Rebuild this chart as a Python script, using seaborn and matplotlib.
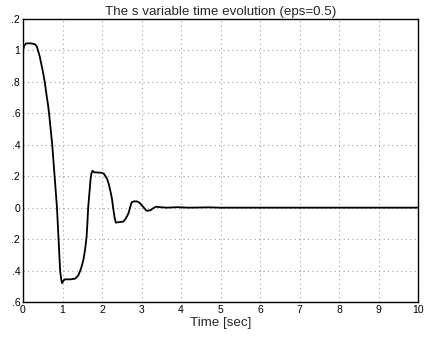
import numpy as np
import pandas as pd
import matplotlib
matplotlib.use("Agg")
import matplotlib.pyplot as plt
import seaborn as sns

# values
t = [0.0, 0.03, 0.08, 0.2, 0.3, 0.35, 0.38, 0.42, 0.45, 0.5, 0.55, 0.6, 0.63,
     0.66, 0.7, 0.74, 0.8, 0.86, 0.9, 0.94, 0.97, 0.99, 1.02, 1.06, 1.2, 1.31,
     1.35, 1.4, 1.45, 1.49, 1.53, 1.57, 1.61, 1.63, 1.65, 1.68, 1.71, 1.73, 1.76,
     1.8, 1.99, 2.05, 2.12, 2.16, 2.2, 2.25, 2.29, 2.32, 2.35, 2.4, 2.54, 2.6,
     2.67, 2.71, 2.75, 2.8, 2.88, 2.95, 3.0, 3.06, 3.13, 3.22, 3.3, 3.37, 3.47,
     3.64, 3.9, 4.2, 4.7, 5.0, 6.0, 7.0, 8.0, 9.0, 10.0]
s = [1.0, 1.03, 1.045, 1.045, 1.04, 1.025, 1.0, 0.965, 0.93, 0.87, 0.8, 0.71,
     0.66, 0.6, 0.5, 0.4, 0.2, 0.0, -0.2, -0.4, -0.46, -0.48, -0.465, -0.456,
     -0.456, -0.452, -0.445, -0.43, -0.4, -0.37, -0.33, -0.27, -0.185, -0.1, 0.0,
     0.09, 0.18, 0.215, 0.235, 0.225, 0.222, 0.215, 0.187, 0.16, 0.12, 0.06,
     -0.015, -0.065, -0.095, -0.093, -0.089, -0.07, -0.036, 0.0, 0.034, 0.04,
     0.04, 0.032, 0.017, 0.0, -0.02, -0.017, -0.003, 0.006, 0.003, 0.0, 0.003,
     0.0, 0.002, 0.0, 0.0, 0.0, 0.0, 0.0, 0.0]

x_ticks = [0, 1, 2, 3, 4, 5, 6, 7, 8, 9, 10]
y_ticks = [-0.6, -0.4, -0.2, 0, 0.2, 0.4, 0.6, 0.8, 1.0, 1.2]
# labels as they appear (clipped) in the reference
y_labels = [".6", ".4", ".2", "0", ".2", ".4", ".6", ".8", "1", ".2"]

df = pd.DataFrame({"t": t, "s": s})

sns.set_style("white")
plt.rcParams["font.family"] = ["Liberation Sans", "DejaVu Sans"]

fig = plt.figure(figsize=(4.25, 3.38), dpi=100)
ax = fig.add_axes([23 / 425, 1 - 302 / 338, 395 / 425, 283 / 338])

sns.lineplot(data=df, x="t", y="s", color="black", linewidth=1.3, ax=ax)

ax.set_xlim(0, 10)
ax.set_ylim(-0.6, 1.2)
ax.set_xticks(x_ticks)
ax.set_xticklabels([str(v) for v in x_ticks])
ax.set_yticks(y_ticks)
ax.set_yticklabels(y_labels)
ax.tick_params(direction="in", length=3, labelsize=7.5, pad=2, colors="black")
ax.grid(True, linestyle=(0, (1, 3)), color="#a0a0a0", linewidth=0.8)
for sp in ax.spines.values():
    sp.set_color("black")
    sp.set_linewidth(1.0)

ax.set_title("The s variable time evolution (eps=0.5)", fontsize=9.6, pad=3)
ax.set_xlabel("Time [sec]", fontsize=9.6, labelpad=1.5)
ax.set_ylabel("")

fig.savefig("out.png", dpi=100)
